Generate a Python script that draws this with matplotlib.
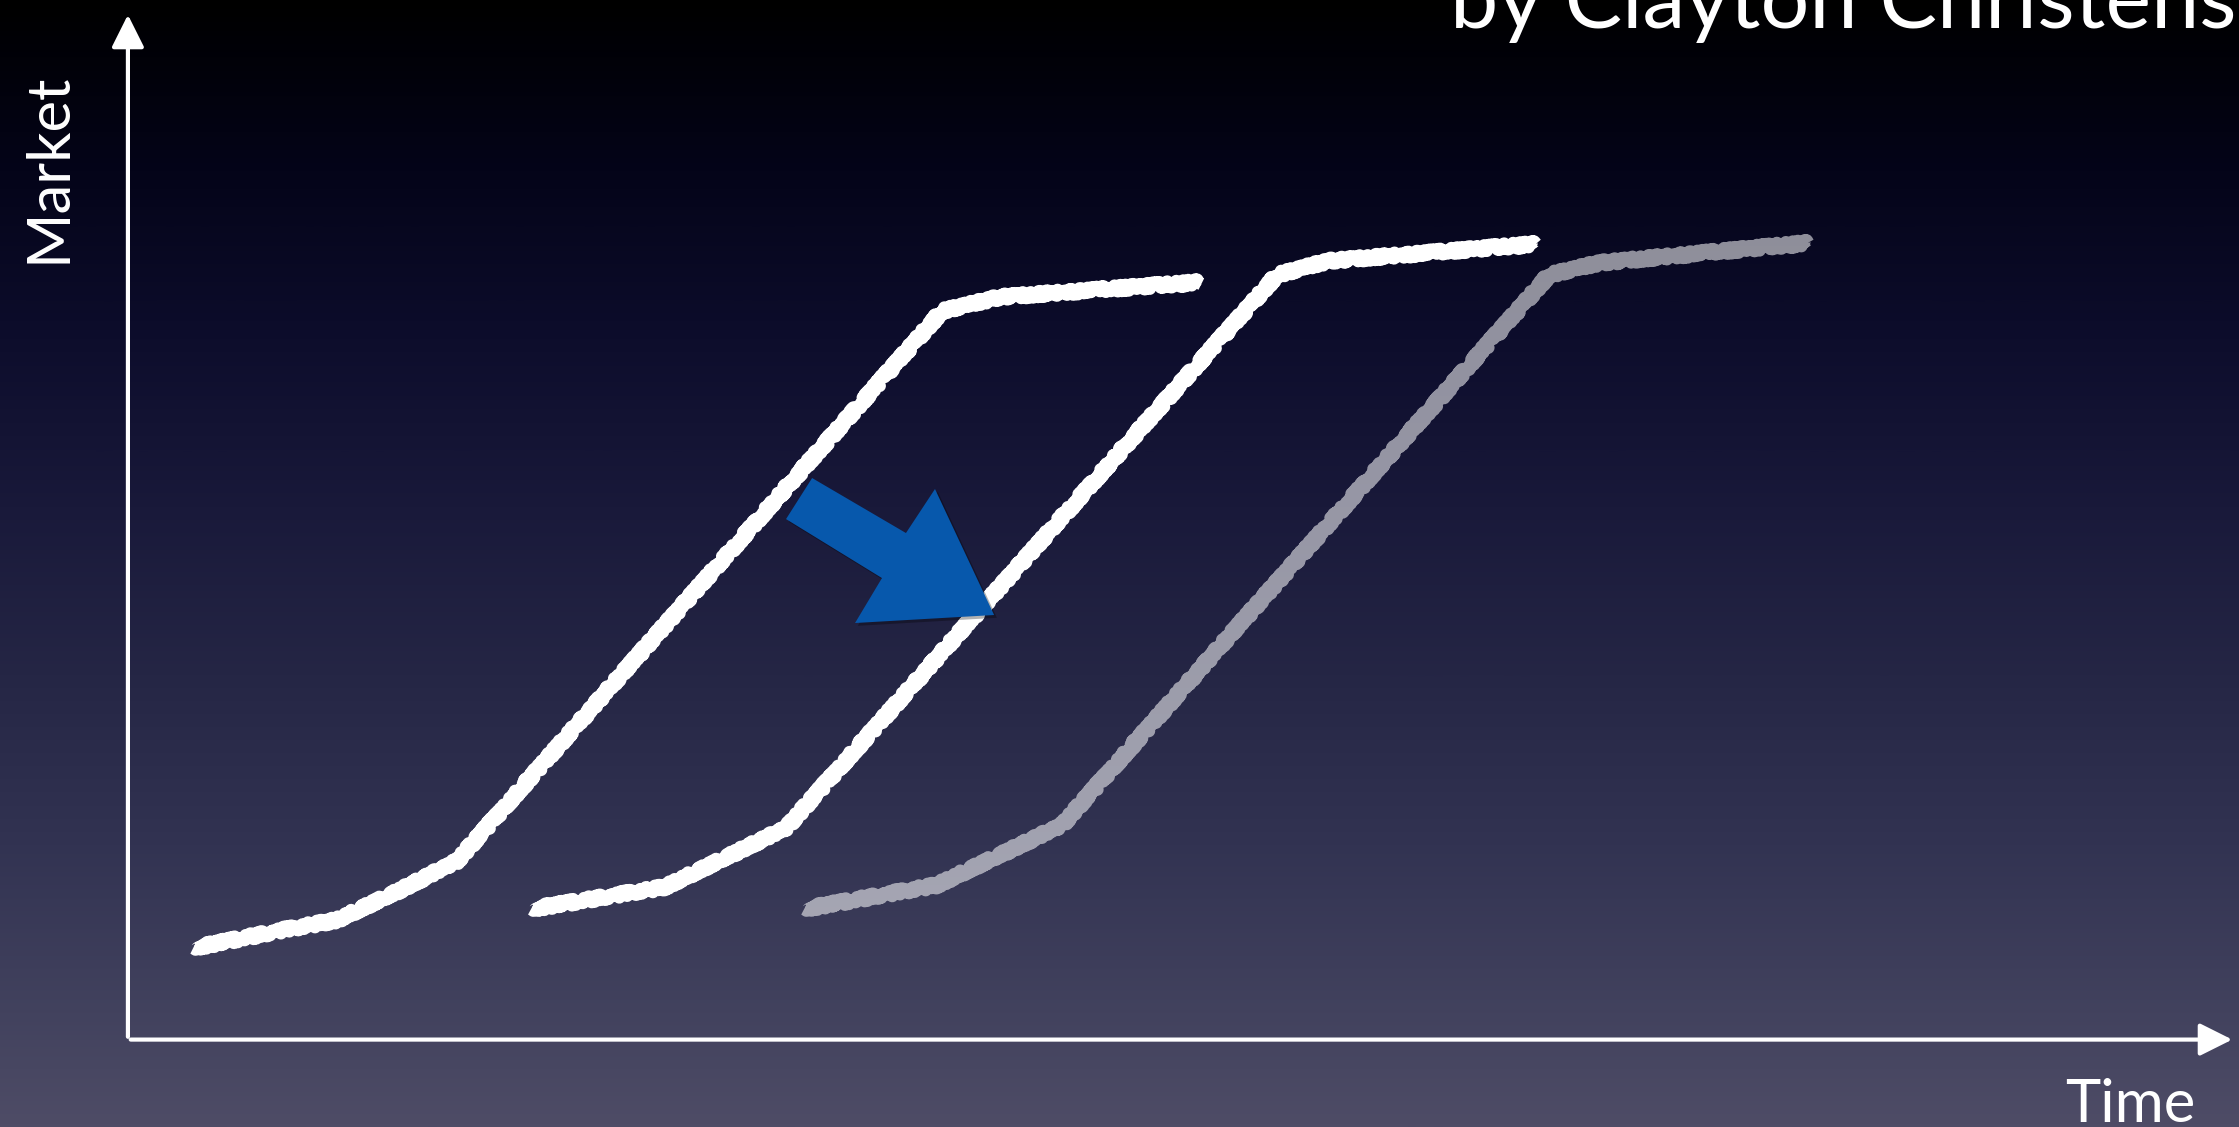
import numpy as np
import matplotlib
matplotlib.use('Agg')
import matplotlib.pyplot as plt
from matplotlib.colors import LinearSegmentedColormap
from matplotlib.patches import Polygon, FancyArrowPatch
import matplotlib.patheffects as pe

plt.rcParams['font.family'] = ['Lato', 'DejaVu Sans']

# S-curves (time, market)
old_t = [2.95, 7.22, 9.79, 12.79, 15.49, 38.55, 41.30, 50.86]
old_m = [8.77, 10.53, 11.50, 14.42, 17.25, 70.86, 72.22, 73.68]
new_t = [19.01, 25.38, 31.13, 54.47, 56.89, 66.78]
new_m = [12.57, 14.72, 20.47, 74.37, 75.73, 77.39]
next_t = [31.99, 38.31, 44.25, 67.40, 69.77, 79.71]
next_m = [12.57, 14.91, 20.76, 74.37, 75.54, 77.49]

# blue jump arrow outline
jump_t = [32.37, 36.83, 38.21, 41.02, 34.41, 35.69, 31.13]
jump_m = [54.58, 49.22, 53.51, 41.23, 40.45, 44.83, 50.58]

title = "by Clayton Christensen"
xlab = "Time"
ylab = "Market"

fig = plt.figure(figsize=(22.39, 11.27), dpi=100)
ax = fig.add_axes([0, 0, 1, 1])
xmin, xmax = -6.23, 100.19
ymin, ymax = -8.67, 101.17
ax.set_xlim(xmin, xmax)
ax.set_ylim(ymin, ymax)
ax.axis('off')

# background gradient, black at the top to slate at the bottom
bg = LinearSegmentedColormap.from_list('bg', [
    (0.00, '#000000'), (0.05, '#010108'), (0.15, '#040419'),
    (0.30, '#0d0d2c'), (0.45, '#19193a'), (0.60, '#252645'),
    (0.75, '#323352'), (0.90, '#42425e'), (1.00, '#4e4c66')])
grad = np.linspace(0, 1, 512).reshape(-1, 1)
ax.imshow(grad, cmap=bg, aspect='auto', extent=(xmin, xmax, ymin, ymax),
          origin='upper', zorder=0)

# axes arrows
ax.add_patch(FancyArrowPatch((-0.15, -0.15), (-0.15, 100.0), arrowstyle='-|>',
                             mutation_scale=50, color='white', lw=3, zorder=2))
ax.add_patch(FancyArrowPatch((-0.15, -0.15), (100.0, -0.15), arrowstyle='-|>',
                             mutation_scale=50, color='white', lw=3, zorder=2))

# chalky curves
for t, m, a in [(old_t, old_m, 1.0), (new_t, new_m, 1.0), (next_t, next_m, 0.55)]:
    ln, = ax.plot(t, m, color='white', alpha=a, lw=9, solid_capstyle='butt',
                  solid_joinstyle='round', zorder=3)
    ln.set_sketch_params(scale=3, length=3, randomness=8)

# blue arrow with a soft shadow
arr = Polygon(np.column_stack([jump_t, jump_m]), closed=True,
              facecolor='#0758ac', edgecolor='none', zorder=4)
arr.set_path_effects([pe.SimplePatchShadow(offset=(2, -2), shadow_rgbFace='black',
                                           alpha=0.3), pe.Normal()])
ax.add_patch(arr)

ax.text(-5.2, 84.8, ylab, rotation=90, color='white', fontsize=43,
        ha='left', va='center', zorder=5)
ax.text(98.1, -8.2, xlab, color='white', fontsize=43, ha='right',
        va='baseline', zorder=5)
ax.text(62.7, 98.4, title, color='white', fontsize=62, ha='left',
        va='baseline', zorder=5)

plt.savefig('out.png', dpi=100)
